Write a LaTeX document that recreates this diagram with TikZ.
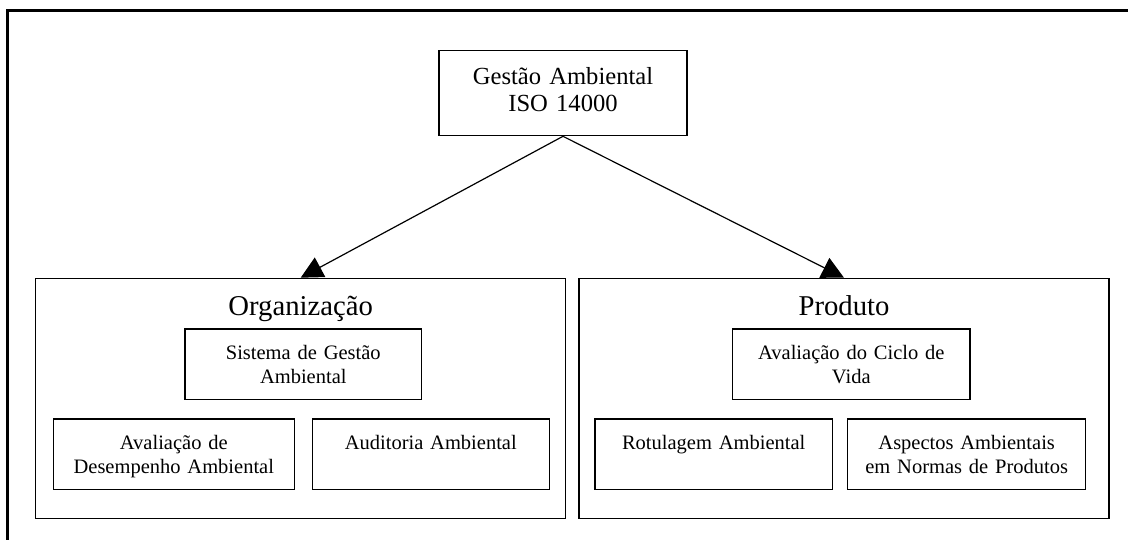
\documentclass[tikz,border=0pt]{standalone}
\usepackage{fontspec}
\setmainfont{Liberation Serif}
\usetikzlibrary{arrows.meta}
\pgfdeclarelayer{fundo}
\pgfsetlayers{fundo,main}

\tikzset{
	caixa/.style={draw, fill=white, line width=1.3pt, inner sep=0pt, align=center, anchor=north},
	grande/.style={caixa, text width=530pt, text height=37.3pt, text depth=202.7pt,
		font=\fontsize{28.7}{32}\selectfont},
	pequena/.style={caixa, text width=#1, text height=30.5pt, text depth=40pt,
		font=\fontsize{20.5}{24}\selectfont},
	seta/.style={line width=1.2pt, -{Triangle[length=22pt, width=22pt]}}
}

\begin{document}
\begin{tikzpicture}[x=1pt, y=-1pt]
	\useasboundingbox (0,0) rectangle (1128,540);
	% moldura
	\draw[line width=3pt] (7.5,550) -- (7.5,10.5) -- (1140,10.5);
	
	\node[caixa, text width=248pt, text height=34.3pt, text depth=50.7pt,
		font=\fontsize{24.6}{27}\selectfont] (iso) at (563,50) {Gestão Ambiental\\ISO 14000};
	
	\node[grande] (org) at (300.7,277.7) {Organização};
	\node[grande] (prod) at (844,277.7) {Produto};
	
	\node[pequena=236.7pt] (sga) at (303.3,328.3) {Sistema de Gestão\\Ambiental};
	\node[pequena=241pt] (ada) at (173.8,418.3) {Avaliação de\\Desempenho Ambiental};
	\node[pequena=237pt] (aud) at (430.8,418.3) {Auditoria Ambiental};
	
	\node[pequena=237.3pt] (acv) at (851.3,328.3) {Avaliação do Ciclo de\\Vida};
	\node[pequena=237.3pt] (rot) at (713.7,418.3) {Rotulagem Ambiental};
	\node[pequena=238pt] (asp) at (966.7,418.3) {Aspectos Ambientais\\em Normas de Produtos};
	
	\begin{pgfonlayer}{fundo}
		\draw[seta] (iso.south) -- (org.north);
		\draw[seta] (iso.south) -- (prod.north);
	\end{pgfonlayer}
\end{tikzpicture}
\end{document}
